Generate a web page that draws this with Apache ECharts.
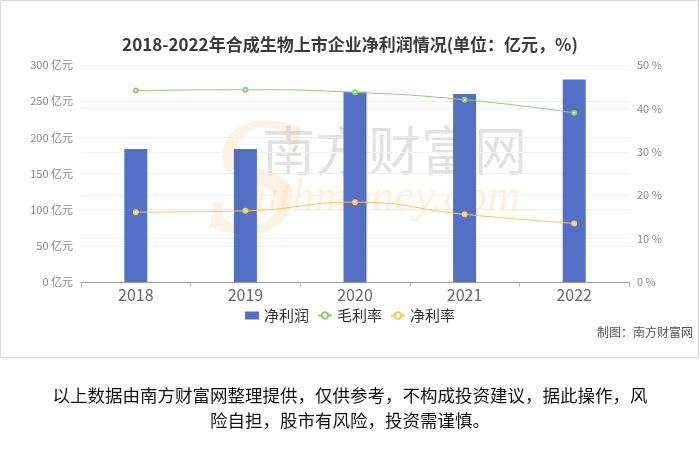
<!DOCTYPE html>
<html>
<head>
<meta charset="utf-8">
<script src="https://cdn.jsdelivr.net/npm/echarts@6/dist/echarts.min.js"></script>
<style>
  html, body { margin: 0; padding: 0; background: #fff; }
  #wrap { position: relative; width: 700px; height: 467px; }
  #chart { position: absolute; left: 0; top: 0; width: 700px; height: 467px; }
  #note { position: absolute; left: 50px; top: 382px; width: 600px; text-align: center;
          font-family: 'Noto Sans CJK SC', sans-serif; font-size: 17.5px; line-height: 25px; color: #111; }
</style>
</head>
<body>
<div id="wrap">
  <div id="chart"></div>
  <div id="note">以上数据由南方财富网整理提供，仅供参考，不构成投资建议，据此操作，风险自担，股市有风险，投资需谨慎。</div>
</div>
<script>
const categories = ['2018', '2019', '2020', '2021', '2022'];
const netProfit = [184, 184, 263, 260, 280];
const grossMargin = [44.1, 44.3, 43.7, 42.0, 39.0];
const netMargin = [16.1, 16.4, 18.4, 15.6, 13.5];
const titleText = '2018-2022年合成生物上市企业净利润情况(单位：亿元，%)';
const sourceText = '制图：南方财富网';

const FONT = 'Noto Sans CJK SC';
const chart = echarts.init(document.getElementById('chart'));
chart.setOption({
  animation: false,
  textStyle: { fontFamily: FONT },
  color: ['#5470c6', '#91cc75', '#fac858'],
  title: {
    text: titleText, left: 'center', top: 31,
    textStyle: { fontSize: 17, fontWeight: 'bold', color: '#3a3a3a', fontFamily: FONT }
  },
  graphic: [
    { type: 'rect', shape: { x: 0.5, y: 0.5, width: 698, height: 357 },
      style: { fill: 'none', stroke: '#d9d9d9', lineWidth: 1 }, silent: true, z: -10 },
    { type: 'text', left: 262, top: 124, silent: true, z: -5,
      style: { text: '南方财富网', font: '53px "Noto Sans CJK SC"', fill: 'rgba(165,165,165,0.32)' } },
    { type: 'text', left: 205, top: 118, silent: true, z: -6,
      style: { text: 'S', font: 'italic 150px "DejaVu Serif"', fill: 'rgba(250,205,150,0.25)' } },
    { type: 'text', left: 256, top: 176, silent: true, z: -5,
      style: { text: 'uthmoney.com', font: 'italic 46px "Liberation Serif"', fill: 'rgba(250,205,150,0.3)' } },
    { type: 'text', right: 7, top: 326,
      style: { text: sourceText, font: '12px "Noto Sans CJK SC"', fill: '#555' } }
  ],
  legend: {
    top: 303, left: 'center', itemWidth: 14, itemHeight: 8, itemGap: 8,
    textStyle: { fontSize: 15, color: '#333', fontFamily: FONT },
    data: [
      { name: '净利润', icon: 'rect' },
      { name: '毛利率' },
      { name: '净利率' }
    ]
  },
  grid: { left: 81, right: 71, top: 65, bottom: 185 },
  xAxis: {
    type: 'category', data: categories,
    axisLine: { lineStyle: { color: '#999' } },
    axisTick: { show: true, lineStyle: { color: '#bbb' } },
    axisLabel: { fontSize: 16, color: '#666', margin: 5, fontFamily: FONT }
  },
  yAxis: [
    {
      type: 'value', min: 0, max: 300, interval: 50,
      axisLine: { show: false }, axisTick: { show: false },
      axisLabel: { formatter: '{value} 亿元', fontSize: 11, color: '#888', fontFamily: FONT },
      splitLine: { lineStyle: { color: '#eeeeee' } }
    },
    {
      type: 'value', min: 0, max: 50, interval: 10,
      axisLine: { show: false }, axisTick: { show: false },
      axisLabel: { formatter: '{value} %', fontSize: 11, color: '#888', fontFamily: FONT },
      splitLine: { lineStyle: { color: '#f2f2f2' } }
    }
  ],
  series: [
    { name: '净利润', type: 'bar', data: netProfit, barWidth: 23, itemStyle: { color: '#5470c6' } },
    { name: '毛利率', type: 'line', yAxisIndex: 1, data: grossMargin, smooth: true,
      symbol: 'emptyCircle', symbolSize: 4, lineStyle: { width: 1, color: '#91cc75' },
      itemStyle: { color: '#91cc75', borderWidth: 1 } },
    { name: '净利率', type: 'line', yAxisIndex: 1, data: netMargin, smooth: true,
      symbol: 'emptyCircle', symbolSize: 4, lineStyle: { width: 1, color: '#fac858' },
      itemStyle: { color: '#fac858', borderWidth: 1 } }
  ]
});
</script>
</body>
</html>
